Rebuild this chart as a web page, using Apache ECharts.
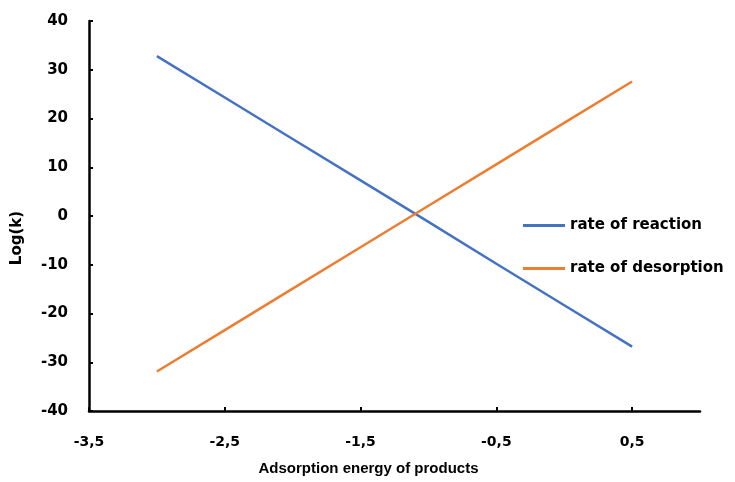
<!DOCTYPE html>
<html>
<head>
<meta charset="utf-8">
<script src="https://cdn.jsdelivr.net/npm/echarts@6/dist/echarts.min.js"></script>
<style>
  html, body { margin: 0; padding: 0; background: #fff; }
  #chart { width: 735px; height: 482px; }
</style>
</head>
<body>
<div id="chart"></div>
<script>
// Adsorption energy of products (x) and log of rate constants (y)
const energies = [-3, -2.5, -2, -1.5, -1, -0.5, 0, 0.5];
const reactionRate = [32.8, 24.3, 15.8, 7.3, -1.2, -9.8, -18.3, -26.8];
const desorptionRate = [-31.9, -23.4, -14.9, -6.4, 2.1, 10.6, 19.1, 27.6];
const xTicks = [-3.5, -2.5, -1.5, -0.5, 0.5];
const seriesNames = ['rate of reaction', 'rate of desorption'];

const FONT = '"DejaVu Sans", sans-serif';
const TITLE_FONT = '"Liberation Sans", Arial, sans-serif';
const fmt = v => String(v).replace('.', ',');

const chart = echarts.init(document.getElementById('chart'));
chart.setOption({
  animation: false,
  backgroundColor: '#ffffff',
  grid: { left: 89, right: 35, top: 21, bottom: 71, containLabel: false },
  legend: {
    orient: 'vertical',
    left: 523,
    top: 218,
    padding: 0,
    itemWidth: 42,
    itemHeight: 3,
    itemGap: 28,
    icon: 'rect',
    textStyle: { fontFamily: FONT, fontWeight: 'bold', fontSize: 15, color: '#000' },
    data: seriesNames
  },
  xAxis: {
    type: 'value',
    min: -3.5,
    max: 1,
    name: 'Adsorption energy of products',
    nameLocation: 'middle',
    nameGap: 50,
    nameTextStyle: { fontFamily: TITLE_FONT, fontWeight: 'bold', fontSize: 15, color: '#000', padding: [0, 52, 0, 0] },
    axisLine: { onZero: false, lineStyle: { color: '#000', width: 2.5 } },
    axisTick: { show: true, inside: true, length: 4, customValues: xTicks, lineStyle: { color: '#000', width: 2 } },
    axisLabel: { customValues: xTicks, formatter: fmt, margin: 24, fontFamily: FONT, fontWeight: 'bold', fontSize: 14, color: '#000' },
    splitLine: { show: false }
  },
  yAxis: {
    type: 'value',
    min: -40,
    max: 40,
    interval: 10,
    name: 'Log(k)',
    nameLocation: 'middle',
    nameGap: 64,
    nameRotate: 90,
    nameTextStyle: { fontFamily: FONT, fontWeight: 'bold', fontSize: 15, color: '#000', padding: [0, 44, 0, 0] },
    axisLine: { show: true, onZero: false, lineStyle: { color: '#000', width: 2.5 } },
    axisTick: { show: true, inside: true, length: 4, lineStyle: { color: '#000', width: 2 } },
    axisLabel: { margin: 21, fontFamily: FONT, fontWeight: 'bold', fontSize: 15, color: '#000' },
    splitLine: { show: false }
  },
  series: [
    {
      name: seriesNames[0],
      type: 'line',
      data: energies.map((x, i) => [x, reactionRate[i]]),
      showSymbol: false,
      lineStyle: { color: '#4472C4', width: 2.5 },
      itemStyle: { color: '#4472C4' }
    },
    {
      name: seriesNames[1],
      type: 'line',
      data: energies.map((x, i) => [x, desorptionRate[i]]),
      showSymbol: false,
      lineStyle: { color: '#ED7D31', width: 2.5 },
      itemStyle: { color: '#ED7D31' }
    }
  ]
});
</script>
</body>
</html>
